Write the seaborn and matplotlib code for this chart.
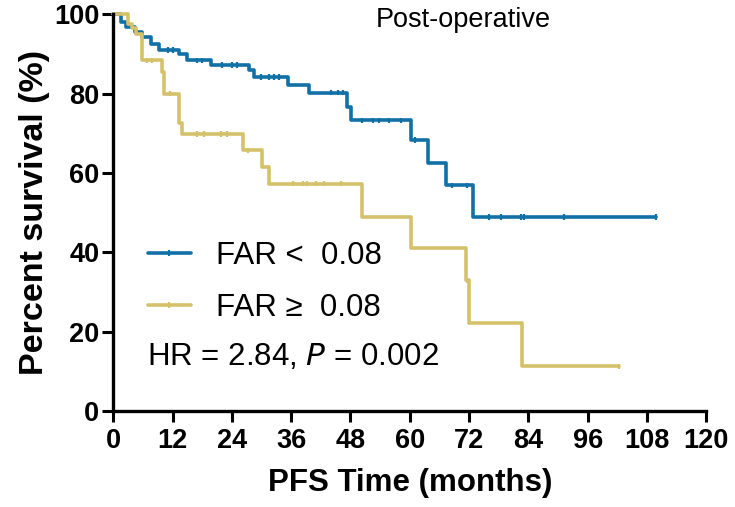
import numpy as np
import pandas as pd
import matplotlib
matplotlib.use("Agg")
import matplotlib.pyplot as plt
from matplotlib.lines import Line2D
import seaborn as sns

# Kaplan-Meier steps (time in months, % surviving after each drop)
low_time = [0, 1.5, 2.5, 4.5, 5.9, 7.6, 9.3, 13.3, 15.0, 19.7, 27.5, 28.5, 35.3, 39.6,
            47.4, 48.1, 60.2, 63.6, 67.3, 72.7, 109.8]
low_surv = [100, 98.1, 96.8, 95.5, 94.3, 92.6, 91.0, 90.0, 88.4, 87.2, 85.9, 84.2, 82.1, 80.2,
            76.7, 73.3, 68.3, 62.4, 56.9, 48.9, 48.9]
low_cens = [11, 12, 17, 18, 22, 24, 25, 30, 31.5, 32.5, 33.5, 44, 45.5, 46.5, 50.4, 52.5,
            53.8, 55.8, 58.2, 61, 68.6, 71.5, 76, 78.4, 82.5, 83.2, 91.3, 109.8]

high_time = [0, 2.9, 3.9, 4.6, 5.9, 9.8, 10.2, 13.3, 14.0, 26.2, 30.2, 31.5, 50.4, 60.2,
             71.4, 72.0, 82.8, 102.4]
high_surv = [100, 97.6, 96.4, 94.9, 88.4, 85.5, 80.0, 72.5, 69.8, 65.7, 61.5, 57.3, 48.9, 41.0,
             33.0, 22.1, 11.3, 11.3]
high_cens = [6.9, 7.9, 11.5, 17, 18.4, 21.8, 23.1, 27.2, 36.3, 38.3, 39.3, 41, 42.7, 46,
             71.6, 102.4]

groups = ["FAR <  0.08", "FAR \u2265  0.08"]
colors = ["#1170a6", "#d5c169"]
x_ticks = list(range(0, 121, 12))
y_ticks = list(range(0, 101, 20))


def level_at(times, surv, t):
    i = np.searchsorted(times, t, side="right") - 1
    return surv[i]


steps = pd.concat([
    pd.DataFrame({"time": low_time, "surv": low_surv, "group": groups[0]}),
    pd.DataFrame({"time": high_time, "surv": high_surv, "group": groups[1]}),
])
cens = pd.concat([
    pd.DataFrame({"time": low_cens,
                  "surv": [level_at(low_time, low_surv, t) for t in low_cens],
                  "group": groups[0]}),
    pd.DataFrame({"time": high_cens,
                  "surv": [level_at(high_time, high_surv, t) for t in high_cens],
                  "group": groups[1]}),
])

sns.set_style("ticks")
plt.rcParams["font.family"] = ["Liberation Sans", "DejaVu Sans"]
plt.rcParams.update({"text.color": "black", "axes.labelcolor": "black",
                     "xtick.color": "black", "ytick.color": "black"})

fig = plt.figure(figsize=(7.35, 5.07), dpi=100)
ax = fig.add_axes([0.154, 0.189, 0.807, 0.783])

palette = dict(zip(groups, colors))
sns.lineplot(data=steps, x="time", y="surv", hue="group", palette=palette,
             estimator=None, sort=False, drawstyle="steps-post", linewidth=2.6,
             legend=False, ax=ax, clip_on=False)
sns.scatterplot(data=cens, x="time", y="surv", hue="group", palette=palette,
                marker="|", s=14, linewidth=1.6, legend=False, ax=ax, clip_on=False)

ax.set_xlim(0, 120)
ax.set_ylim(0, 100)
ax.set_xticks(x_ticks)
ax.set_yticks(y_ticks)
ax.tick_params(axis="both", length=8, width=2.2, labelsize=19.5, color="black")
ax.tick_params(axis="x", pad=4)
ax.tick_params(axis="y", pad=2)
for lab in ax.get_xticklabels() + ax.get_yticklabels():
    lab.set_fontweight("bold")
for side in ["left", "bottom"]:
    ax.spines[side].set_linewidth(2.4)
    ax.spines[side].set_color("black")
sns.despine(ax=ax)

ax.set_xlabel("PFS Time (months)", fontsize=22.5, fontweight="bold", labelpad=10)
ax.set_ylabel("Percent survival (%)", fontsize=24.5, fontweight="bold", labelpad=3)

ax.text(0.59, 0.985, "Post-operative", transform=ax.transAxes, fontsize=19.5,
        ha="center", va="center")

handles = [Line2D([0], [0], color=c, lw=2.6, marker="|", markersize=4, markeredgewidth=1.5)
           for c in colors]
ax.legend(handles, groups, loc="center left", bbox_to_anchor=(0.058, 0.325),
          frameon=False, fontsize=22.5, handlelength=1.4, handletextpad=0.8,
          labelspacing=0.72, borderpad=0, borderaxespad=0)

ax.text(0.057, 0.136, "HR = 2.84, $\\it{P}$ = 0.002", transform=ax.transAxes,
        fontsize=22.5, ha="left", va="center")

fig.savefig("out.png", dpi=100)
